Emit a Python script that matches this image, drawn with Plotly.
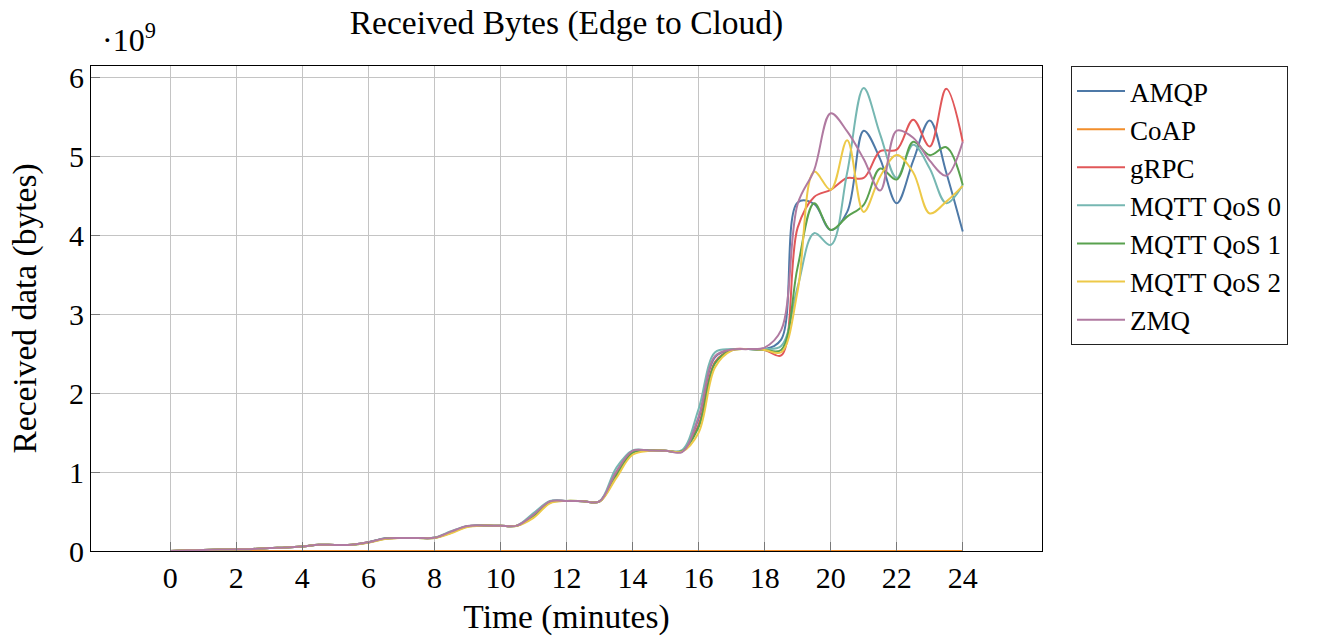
import plotly.graph_objects as go

time_min = [i * 0.5 for i in range(49)]

amqp = [0.0, 0.008, 0.014, 0.018, 0.022, 0.026, 0.038, 0.045, 0.058, 0.078,
        0.077, 0.08, 0.11, 0.16, 0.165, 0.165, 0.168, 0.24, 0.315, 0.322,
        0.32, 0.322, 0.455, 0.628, 0.635, 0.632, 0.628, 0.99, 1.265, 1.275,
        1.272, 1.265, 1.68, 2.46, 2.555, 2.56, 2.56, 2.68, 4.42, 4.4,
        4.07, 4.3, 5.33, 4.97, 4.41, 4.95, 5.46, 4.8, 4.05]
coap = [0.0] * 49
grpc = [0.0, 0.008, 0.014, 0.018, 0.022, 0.026, 0.038, 0.045, 0.058, 0.078,
        0.077, 0.08, 0.11, 0.158, 0.165, 0.165, 0.168, 0.235, 0.313, 0.322,
        0.32, 0.322, 0.45, 0.622, 0.635, 0.632, 0.628, 0.97, 1.26, 1.275,
        1.272, 1.27, 1.6, 2.4, 2.55, 2.56, 2.55, 2.48, 4.1, 4.49,
        4.58, 4.73, 4.73, 5.07, 5.09, 5.47, 5.13, 5.86, 5.19]
mqtt_qos0 = [0.0, 0.008, 0.014, 0.018, 0.022, 0.026, 0.038, 0.045, 0.058, 0.078,
             0.077, 0.08, 0.112, 0.162, 0.165, 0.165, 0.17, 0.25, 0.318, 0.322,
             0.32, 0.322, 0.48, 0.635, 0.635, 0.632, 0.63, 1.05, 1.275, 1.275,
             1.272, 1.28, 1.8, 2.52, 2.56, 2.56, 2.56, 2.6, 3.35, 4.03,
             3.88, 4.8, 5.87, 5.28, 4.73, 5.15, 4.85, 4.41, 4.64]
mqtt_qos1 = [0.0, 0.008, 0.014, 0.018, 0.022, 0.026, 0.038, 0.045, 0.058, 0.078,
             0.077, 0.08, 0.108, 0.156, 0.165, 0.165, 0.166, 0.232, 0.31, 0.322,
             0.32, 0.32, 0.44, 0.615, 0.635, 0.632, 0.626, 0.95, 1.245, 1.275,
             1.272, 1.265, 1.57, 2.38, 2.545, 2.56, 2.55, 2.55, 3.6, 4.41,
             4.07, 4.24, 4.39, 4.85, 4.71, 5.19, 5.02, 5.12, 4.64]
mqtt_qos2 = [0.0, 0.008, 0.014, 0.018, 0.022, 0.026, 0.038, 0.045, 0.058, 0.078,
             0.077, 0.08, 0.105, 0.152, 0.165, 0.165, 0.165, 0.225, 0.305, 0.322,
             0.32, 0.32, 0.42, 0.605, 0.635, 0.632, 0.625, 0.92, 1.22, 1.27,
             1.272, 1.26, 1.5, 2.33, 2.54, 2.56, 2.55, 2.52, 3.3, 4.81,
             4.58, 5.21, 4.3, 4.75, 5.02, 4.8, 4.28, 4.43, 4.63]
zmq = [0.0, 0.008, 0.014, 0.018, 0.022, 0.026, 0.038, 0.045, 0.058, 0.078,
       0.077, 0.08, 0.11, 0.16, 0.165, 0.165, 0.168, 0.245, 0.316, 0.322,
       0.32, 0.322, 0.46, 0.63, 0.635, 0.632, 0.628, 1.0, 1.27, 1.275,
       1.272, 1.255, 1.7, 2.47, 2.555, 2.56, 2.58, 2.8, 4.4, 4.83,
       5.55, 5.32, 4.97, 4.57, 5.33, 5.24, 4.95, 4.76, 5.19]

series = [
    ("AMQP", amqp, "#4E79A7"),
    ("CoAP", coap, "#F28E2B"),
    ("gRPC", grpc, "#E15759"),
    ("MQTT QoS 0", mqtt_qos0, "#76B7B2"),
    ("MQTT QoS 1", mqtt_qos1, "#59A14F"),
    ("MQTT QoS 2", mqtt_qos2, "#EDC948"),
    ("ZMQ", zmq, "#B07AA1"),
]

x_ticks = list(range(0, 25, 2))
y_ticks = [0, 1, 2, 3, 4, 5, 6]

FONT = "Liberation Serif"

fig = go.Figure()
for name, vals, color in series:
    fig.add_trace(go.Scatter(
        x=time_min, y=vals, mode="lines", name=name,
        line=dict(color=color, width=2, shape="spline", smoothing=1.0),
    ))

fig.update_layout(
    width=1342, height=636,
    margin=dict(l=91, r=300, t=66, b=85, autoexpand=False),
    paper_bgcolor="white", plot_bgcolor="white",
    font=dict(family=FONT, size=30, color="black"),
    title=dict(text="Received Bytes (Edge to Cloud)", x=0.5, xref="paper",
               xanchor="center", y=1 - 22 / 636, yref="container",
               yanchor="middle", font=dict(family=FONT, size=33.5, color="black")),
    legend=dict(x=1.0305, xanchor="left", y=1.0, yanchor="top",
                bordercolor="#222222", borderwidth=1, bgcolor="white",
                font=dict(family=FONT, size=27, color="black"),
                itemwidth=48, tracegroupgap=0),
    showlegend=True,
)

fig.update_xaxes(
    range=[-2.4, 26.4], tickvals=x_ticks, ticktext=[str(v) for v in x_ticks],
    showgrid=True, gridcolor="#c4c4c4", gridwidth=1, zeroline=False,
    showline=True, linecolor="black", linewidth=1, mirror=True,
    ticks="inside", ticklen=9, tickcolor="#777777", tickwidth=1,
    tickfont=dict(family=FONT, size=30), automargin=False,
    title=dict(text="Time (minutes)", font=dict(family=FONT, size=33.5), standoff=12),
)
fig.update_yaxes(
    range=[0, 6.15], tickvals=y_ticks, ticktext=[str(v) for v in y_ticks],
    showgrid=True, gridcolor="#c4c4c4", gridwidth=1, zeroline=False,
    showline=True, linecolor="black", linewidth=1, mirror=True,
    ticks="inside", ticklen=9, tickcolor="#777777", tickwidth=1,
    tickfont=dict(family=FONT, size=30), automargin=False,
    title=dict(text="Received data (bytes)", font=dict(family=FONT, size=33.5), standoff=22),
)

fig.add_annotation(
    text="·10<sup>9</sup>", xref="paper", yref="paper", x=0.0095, y=1.0,
    xanchor="left", yanchor="bottom", yshift=6, showarrow=False,
    font=dict(family=FONT, size=32, color="black"),
)

fig.write_html("out.html")
